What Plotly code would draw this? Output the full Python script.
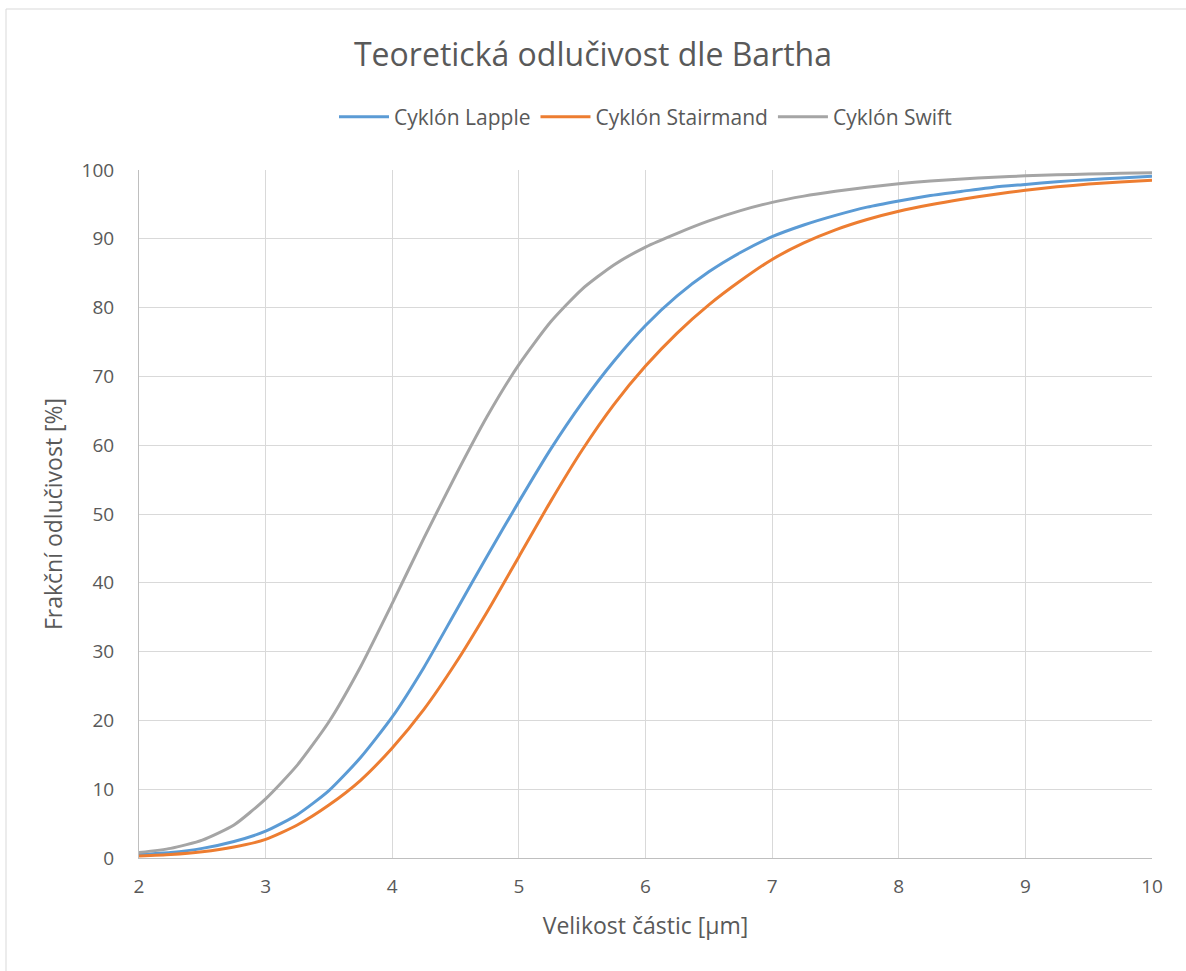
import plotly.graph_objects as go

x_vals = [2.0, 2.25, 2.5, 2.75, 3.0, 3.25, 3.5, 3.75, 4.0, 4.25, 4.5, 4.75, 5.0,
          5.25, 5.5, 5.75, 6.0, 6.25, 6.5, 6.75, 7.0, 7.25, 7.5, 7.75, 8.0,
          8.25, 8.5, 8.75, 9.0, 9.25, 9.5, 9.75, 10.0]

lapple = [0.5, 0.8, 1.4, 2.4, 3.9, 6.3, 9.8, 14.6, 20.5, 27.7, 35.8, 43.9, 51.8,
          59.4, 66.2, 72.2, 77.4, 81.7, 85.2, 88.0, 90.3, 92.0, 93.4, 94.6, 95.5,
          96.3, 96.9, 97.5, 97.9, 98.3, 98.6, 98.85, 99.1]

stairmand = [0.3, 0.5, 0.9, 1.6, 2.7, 4.8, 7.7, 11.3, 16.0, 21.6, 28.3, 35.8, 43.8,
             51.8, 59.3, 65.9, 71.5, 76.3, 80.4, 83.9, 87.0, 89.4, 91.3, 92.8, 94.0,
             94.95, 95.75, 96.45, 97.05, 97.55, 97.95, 98.25, 98.5]

swift = [0.8, 1.4, 2.6, 4.8, 8.6, 13.5, 19.8, 27.8, 37.0, 46.5, 55.6, 64.2, 71.7,
         77.9, 82.7, 86.2, 88.8, 90.8, 92.6, 94.1, 95.3, 96.2, 96.9, 97.5, 98.0,
         98.4, 98.7, 98.95, 99.15, 99.3, 99.42, 99.52, 99.6]

series_names = ["Cyklón Lapple", "Cyklón Stairmand", "Cyklón Swift"]
series_colors = ["#5B9BD5", "#ED7D31", "#A5A5A5"]

fig = go.Figure()
for name, vals, col in zip(series_names, [lapple, stairmand, swift], series_colors):
    fig.add_trace(go.Scatter(x=x_vals, y=vals, mode="lines", name=name,
                             line=dict(color=col, width=3, shape="spline", smoothing=0.6)))

font_family = "'Open Sans', 'Noto Sans', sans-serif"
txt = "#595959"

L, R, T, B = 139, 1152, 170, 858
W, H = 1186, 971

def px_x(p):
    return (p - L) / (R - L)

def px_y(p):
    return (B - p) / (B - T)

fig.update_layout(
    width=W, height=H,
    margin=dict(l=L, r=W - R, t=T, b=H - B),
    paper_bgcolor="white", plot_bgcolor="white",
    title=dict(text="Teoretická odlučivost dle Bartha", x=0.5, xanchor="center",
               y=1 - 55 / H, yanchor="middle",
               font=dict(family=font_family, size=32, color=txt)),
    legend=dict(orientation="h", x=0.5, xanchor="center", y=px_y(117), yanchor="middle",
                font=dict(family=font_family, size=21, color=txt),
                itemwidth=50, bgcolor="rgba(0,0,0,0)"),
    font=dict(family=font_family, color=txt),
    xaxis=dict(range=[2, 10], dtick=1, tick0=2, showgrid=True, gridcolor="#D9D9D9", gridwidth=1,
               zeroline=False, showline=True, linecolor="#BFBFBF", linewidth=1,
               ticks="", tickfont=dict(size=19, color=txt), ticklabelstandoff=11,
               title=dict(text="Velikost částic [μm]", font=dict(size=23, color=txt), standoff=20)),
    yaxis=dict(range=[0, 100], dtick=10, showgrid=True, gridcolor="#D9D9D9", gridwidth=1,
               zeroline=False, showline=True, linecolor="#BFBFBF", linewidth=1,
               ticks="", tickfont=dict(size=19, color=txt), ticklabelstandoff=20,
               title=dict(text="Frakční odlučivost [%]", font=dict(size=23, color=txt), standoff=12)),
    shapes=[dict(type="rect", xref="paper", yref="paper",
                 x0=px_x(6), x1=px_x(1200), y0=px_y(990), y1=px_y(9),
                 line=dict(color="#D9D9D9", width=1), layer="below")],
)

fig.write_html("out.html", config={"displayModeBar": False},
               post_script="document.body.style.margin='0';")
